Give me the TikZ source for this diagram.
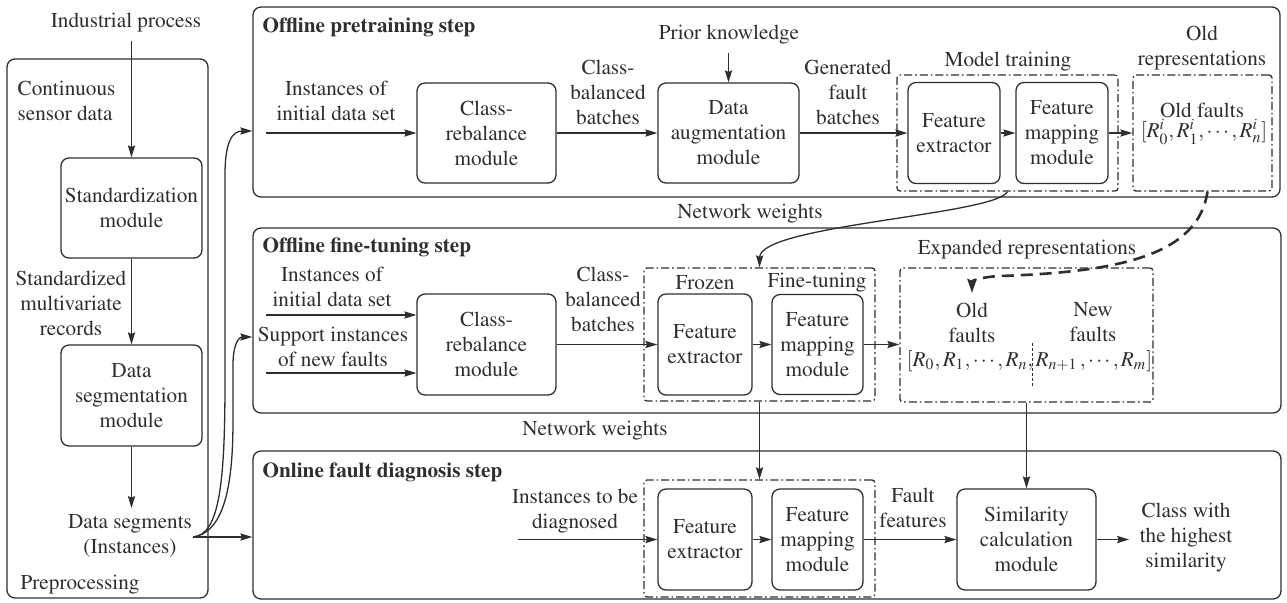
\documentclass[tikz,border=0pt]{standalone}
\usepackage[T1]{fontenc}
\usepackage{mathptmx}
\usetikzlibrary{arrows.meta}
\definecolor{ink}{HTML}{2E2E2E}
\newcommand{\figfont}{\fontsize{10.6}{12.5}\selectfont\rmfamily}
\tikzset{
  panel/.style={draw, rounded corners=4pt, inner sep=0pt},
  module/.style={draw, rounded corners=4pt, align=center, inner sep=0pt},
  group/.style={draw, rounded corners=1.5pt, inner sep=0pt,
    dash pattern=on 4pt off 1.5pt on 0.8pt off 1.5pt},
  lbl/.style={align=center, inner sep=0pt},
  title/.style={anchor=west, inner sep=0pt, font=\figfont\bfseries},
  arr/.style={-{Stealth[length=6pt,width=3.6pt,inset=0.8pt]}},
  heavy/.style={line width=1.3pt, dash pattern=on 6pt off 3.5pt,
    -{Stealth[length=7pt,width=4.6pt,inset=0.8pt]}},
  divider/.style={line width=0.4pt, dash pattern=on 1.5pt off 1pt},
}
\begin{document}
\begin{tikzpicture}[x=0.5pt, y=-0.5pt, color=ink, line width=0.65pt, font=\figfont]
\useasboundingbox (0,0) rectangle (1287,602);

% stage panels
\node[panel, minimum width=100.5pt, minimum height=269.5pt] (pre) at (107.5,328.5) {};
\node[panel, minimum width=513.5pt, minimum height=95pt] (pt) at (766.5,102) {};
\node[panel, minimum width=514pt, minimum height=92.5pt] (ft) at (767,320.5) {};
\node[panel, minimum width=514pt, minimum height=74pt] (on) at (767,525) {};

% preprocessing
\node[lbl] (ip) at (126,23) {Industrial process};
\node[lbl, anchor=west, align=left] (csd) at (17,100.5) {Continuous\\sensor data};
\node[module, minimum width=70.5pt, minimum height=50pt] (std) at (131.5,208) {Standardization\\module};
\node[lbl] (smr) at (71,303) {Standardized\\multivariate\\records};
\node[module, minimum width=70.5pt, minimum height=50.5pt] (seg) at (131.5,395.5) {Data\\segmentation\\module};
\node[lbl] (dsg) at (130,536) {Data segments\\(Instances)};
\node[lbl, anchor=west] (prep) at (20,585) {Preprocessing};
\coordinate (ds) at (193,537);

\draw[arr, shorten <=4pt] (ip.south -| std.north) -- (std.north);
\draw[arr] (std.south) -- (seg.north);
\draw[arr, shorten >=3pt] (seg.south) -- (dsg.north -| seg.south);

\draw[arr] (ds) -- (ds -| on.west);
\draw[arr] (ds) .. controls (220,535) and (225,480) .. (225,380) -- (225,175)
  .. controls (225,142) and (232,131) .. (pt.west |- 0,131);
\draw[arr] (ds) .. controls (226,532) and (233,480) .. (233,420) -- (233,365)
  .. controls (233,346) and (238,337) .. (ft.west |- 0,337);

% offline pretraining
\node[title] (ptt) at (262,27) {Offline pretraining step};
\node[lbl] (in1) at (336,101) {Instances of\\initial data set};
\coordinate (s1) at (266,133);
\node[module, minimum width=69.5pt, minimum height=50pt] (cr1) at (486.5,133) {Class-\\rebalance\\module};
\node[lbl] (cb1) at (608,92) {Class-\\balanced\\batches};
\node[module, minimum width=70.5pt, minimum height=50pt] (aug) at (728.5,133) {Data\\augmentation\\module};
\node[lbl] (pk) at (729,35) {Prior knowledge};
\node[lbl] (gfb) at (848,92) {Generated\\fault\\batches};
\node[group, minimum width=110.5pt, minimum height=58pt] (mt) at (1007.5,133) {};
\node[lbl] (mtl) at (1008,62) {Model training};
\node[module, minimum width=46pt, minimum height=50.5pt] (fe1) at (954,133) {Feature\\extractor};
\node[module, minimum width=46pt, minimum height=50.5pt] (fm1) at (1062,133) {Feature\\mapping\\module};
\node[group, minimum width=69.5pt, minimum height=58pt] (oldr) at (1202.5,133) {};
\node[lbl] (oldrl) at (1202,48.5) {Old\\representations};
\node[lbl] (oldf1) at (1202,110) {Old faults};
\node[lbl] (rold1) at (1204,132) {$[R^i_0, R^i_1, \cdots , R^i_n]$};

\draw[arr] (s1) -- (s1 -| cr1.west);
\draw[arr] (cr1) -- (aug);
\draw[arr, shorten <=4pt] (pk.south -| aug.north) -- (aug.north);
\draw[arr] (aug) -- (fe1);
\draw[arr] (fe1) -- (fm1);
\draw[arr] (fm1) -- (oldr);

% offline fine-tuning
\node[title] (ftt) at (262,247) {Offline fine-tuning step};
\node[lbl] (in2) at (332,287) {Instances of\\initial data set};
\node[lbl] (sup) at (333,347) {Support instances\\of new faults};
\coordinate (s2) at (266,315);
\coordinate (s3) at (266,373);
\node[module, minimum width=69.5pt, minimum height=50.5pt] (cr2) at (486.5,344.5) {Class-\\rebalance\\module};
\node[lbl] (cb2) at (603,299.5) {Class-\\balanced\\batches};
\node[group, minimum width=115.5pt, minimum height=66.5pt] (ftbox) at (759.5,334.5) {};
\node[lbl] (frz) at (705,283) {Frozen};
\node[lbl] (ftn) at (817,283) {Fine-tuning};
\node[module, minimum width=47pt, minimum height=50.5pt] (fe2) at (705,344.5) {Feature\\extractor};
\node[module, minimum width=45.5pt, minimum height=50pt] (fm2) at (817.5,344.5) {Feature\\mapping\\module};
\node[group, minimum width=126.5pt, minimum height=67pt] (exp) at (1026.5,335) {};
\node[lbl] (expl) at (1027,250) {Expanded representations};
\node[lbl] (oldf2) at (972,322.5) {Old\\faults};
\node[lbl] (newf) at (1093,322.5) {New\\faults};
\node[lbl, anchor=base east] (rold2) at (1034,366) {$[R_0, R_1, \cdots , R_n,$};
\node[lbl, anchor=base west] (rnew) at (1035,366) {$R_{n+1}\, , \cdots , R_m]$};
\draw[divider] (1032,343) -- (1032,387);
\coordinate (oldin) at (972,293);

\draw[arr] (s2) -- (s2 -| cr2.west);
\draw[arr] (s3) -- (s3 -| cr2.west);
\draw[arr] (cr2) -- (fe2);
\draw[arr] (fe2) -- (fm2);
\draw[arr] (fm2) -- (fm2 -| exp.west);

% weights and representations passed between steps
\node[lbl] (nw1) at (750,214) {Network weights};
\draw[arr] (mt.south) .. controls (995,215) and (760,225) .. (ftbox.north);
\draw[heavy] ([xshift=2.5pt]oldr.south) .. controls (1198,255) and (1120,272) .. (1000,276)
  .. controls (980,277) and (972,281) .. (oldin);
\node[lbl] (nw2) at (595,431) {Network weights};

% online fault diagnosis
\node[title] (ont) at (262,472) {Online fault diagnosis step};
\node[lbl] (itd) at (575,511.5) {Instances to be\\diagnosed};
\coordinate (s4) at (518,539.5);
\node[group, minimum width=115.5pt, minimum height=58.5pt] (onbox) at (759.5,538.5) {};
\node[module, minimum width=47pt, minimum height=50.5pt] (fe3) at (705,539.5) {Feature\\extractor};
\node[module, minimum width=45.5pt, minimum height=50.5pt] (fm3) at (817.5,539.5) {Feature\\mapping\\module};
\node[lbl] (ff) at (913,507.5) {Fault\\features};
\node[module, minimum width=69.5pt, minimum height=50.5pt] (sim) at (1026.5,539.5) {Similarity\\calculation\\module};
\node[lbl] (cls) at (1186,538) {Class with\\the highest\\similarity};

\draw[arr] (ftbox.south) -- (onbox.north);
\draw[arr] (exp.south) -- (sim.north);
\draw[arr] (s4) -- (fe3);
\draw[arr] (fe3) -- (fm3);
\draw[arr] (fm3) -- (sim);
\draw[arr, shorten >=5pt] (sim) -- (cls.west |- sim);
\end{tikzpicture}
\end{document}
